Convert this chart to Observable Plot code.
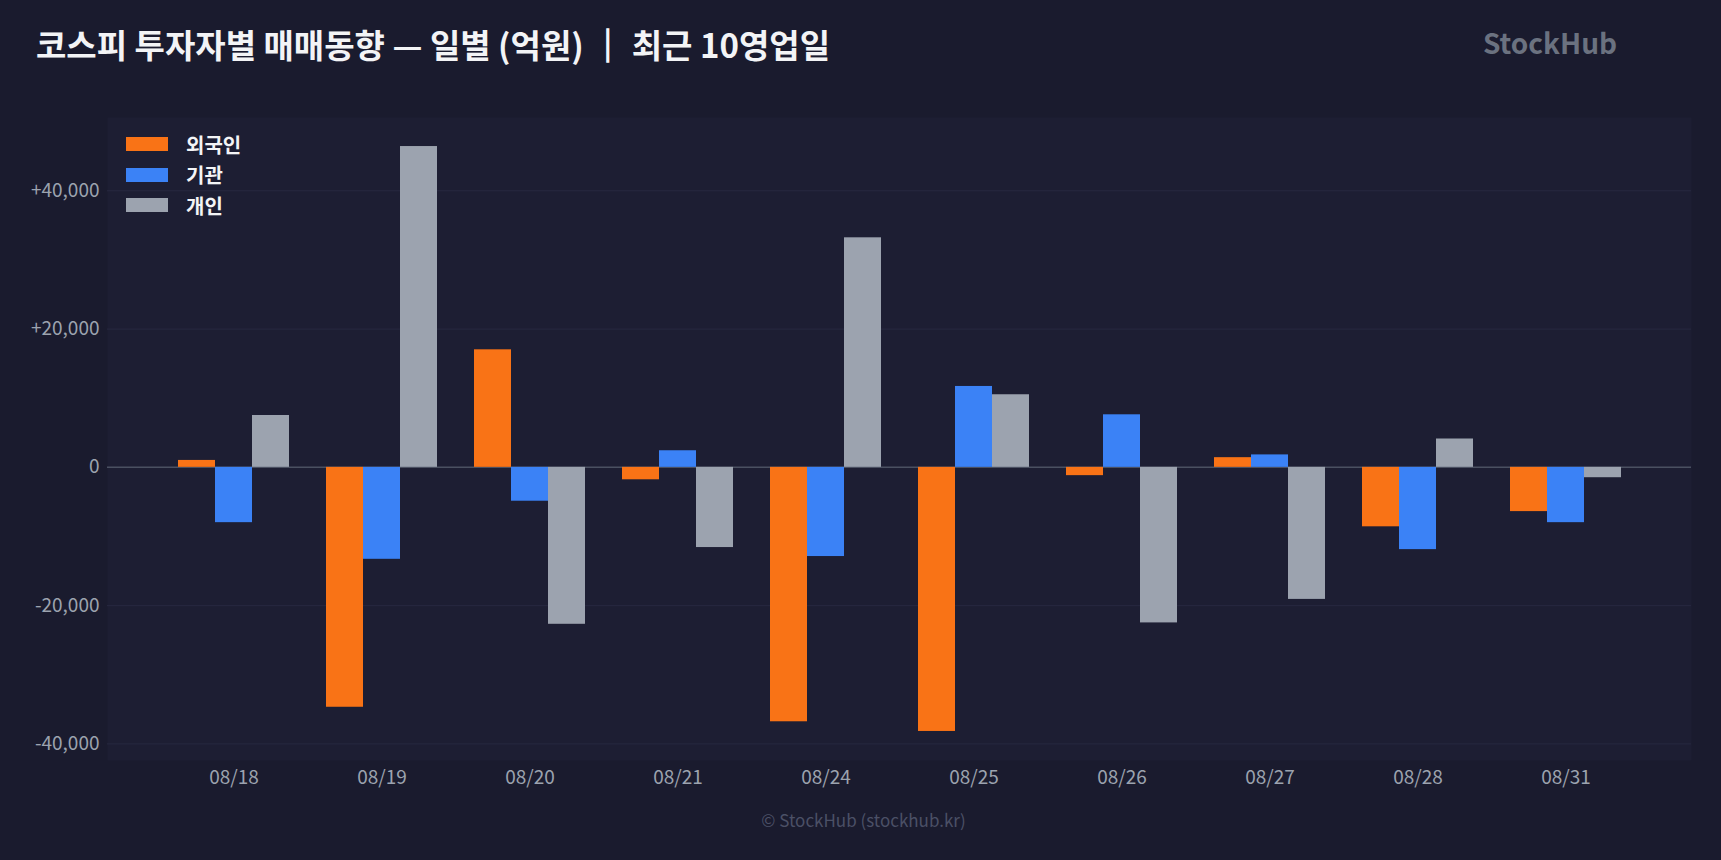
<!DOCTYPE html>
<html>
<head>
<meta charset="utf-8">
<script src="https://cdn.jsdelivr.net/npm/d3@7"></script>
<script src="https://cdn.jsdelivr.net/npm/@observablehq/plot@0.6"></script>
<style>
  body { margin: 0; background: #1a1b2e; font-family: "Noto Sans CJK KR", "Noto Sans", sans-serif; }
  #wrap { position: relative; width: 1721px; height: 860px; background: #1a1b2e; overflow: hidden; }
  #wrap svg { position: absolute; left: 0; top: 0; background: transparent; }
  .title { position: absolute; left: 36px; top: 28px; font-size: 33px; font-weight: 700; color: #f3f4f6; white-space: nowrap; line-height: 1; }
  .title .bar { -webkit-text-stroke: 1.5px #f3f4f6; }
  .brand { position: absolute; right: 104px; top: 28px; font-size: 28px; font-weight: 700; color: #6b7280; line-height: 1; }
  .legend { position: absolute; left: 126px; top: 129px; z-index: 3; }
  .legend div { display: flex; align-items: center; height: 30.5px; font-size: 20px; font-weight: 700; color: #f3f4f6; }
  .legend span { display: inline-block; width: 42px; height: 14px; margin-right: 18px; }
  .footer { position: absolute; left: 0; width: 1727px; top: 807px; text-align: center; font-size: 17px; color: #4b5066; }
</style>
</head>
<body>
<div id="wrap">
  <div class="title">코스피 투자자별 매매동향 — 일별 (억원) <span class="bar">｜</span> 최근 10영업일</div>
  <div class="brand">StockHub</div>
  <div class="legend" id="legend"></div>
  <div class="footer">© StockHub (stockhub.kr)</div>
</div>
<script>
// 일별 순매수 (억원)
const dates = ["08/18","08/19","08/20","08/21","08/24","08/25","08/26","08/27","08/28","08/31"];
const types = ["외국인", "기관", "개인"];
const colors = ["#f97316", "#3b82f6", "#9ca3af"];
const foreign = [1000, -34700, 17000, -1800, -36800, -38200, -1200, 1400, -8600, -6400];
const institution = [-8000, -13300, -4900, 2400, -12900, 11700, 7600, 1800, -11900, -8000];
const individual = [7500, 46400, -22700, -11600, 33200, 10500, -22500, -19100, 4100, -1500];
const yTicks = [-40000, -20000, 0, 20000, 40000];
const yDomain = [-42400, 50600];

const series = [foreign, institution, individual];
var rows = [];
for (var i = 0; i < dates.length; i++) {
  for (var j = 0; j < types.length; j++) {
    rows.push({date: dates[i], type: types[j], value: series[j][i]});
  }
}

const W = 1721, H = 860;
const margins = {marginTop: 117, marginBottom: 100, marginLeft: 107, marginRight: 30};
const font = {fontFamily: "'Noto Sans CJK KR', 'Noto Sans', sans-serif", fontSize: "19px", color: "#9ca3af", background: "transparent"};

const fmt = d3.format(",");
const signed = d => d === 0 ? "0" : (d > 0 ? "+" : "-") + fmt(Math.abs(d));

// back layer: panel, grid, zero line, y axis
const back = Plot.plot({
  width: W, height: H, ...margins,
  style: font,
  y: {domain: yDomain, ticks: yTicks, tickFormat: signed, tickSize: 0, tickPadding: 8, label: null},
  marks: [
    Plot.frame({fill: "#1d1e33", stroke: null}),
    Plot.gridY(yTicks, {stroke: "#272941", strokeOpacity: 1}),
    Plot.ruleY([0], {stroke: "#4a5061", strokeWidth: 1.5})
  ]
});

// front layer: grouped bars faceted by date
const front = Plot.plot({
  width: W, height: H, ...margins,
  style: font,
  fx: {domain: dates, paddingInner: 0.25, paddingOuter: 0.476, tickSize: 0, tickPadding: 10, label: null, axis: "bottom"},
  x: {domain: types, padding: 0, axis: null},
  y: {domain: yDomain, axis: null},
  color: {domain: types, range: colors},
  marks: [
    Plot.barY(rows, {fx: "date", x: "type", y: "value", fill: "type"})
  ]
});

const wrap = document.getElementById("wrap");
wrap.appendChild(back);
wrap.appendChild(front);

const legend = document.getElementById("legend");
types.forEach((t, k) => {
  const row = document.createElement("div");
  row.innerHTML = `<span style="background:${colors[k]}"></span>${t}`;
  legend.appendChild(row);
});
</script>
</body>
</html>
